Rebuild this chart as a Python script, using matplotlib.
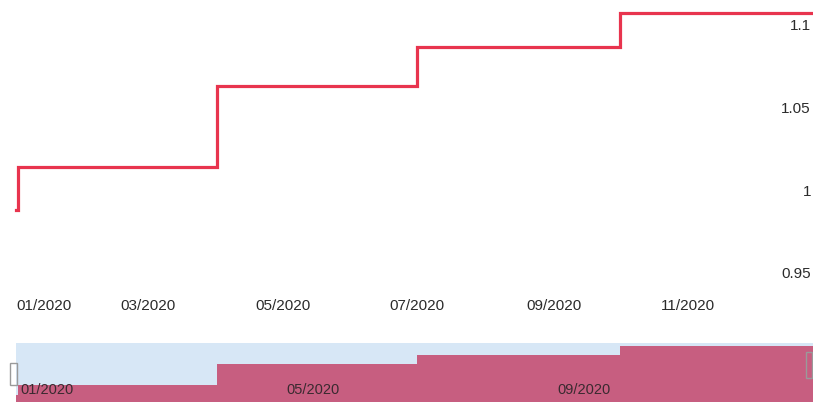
import matplotlib
matplotlib.use("Agg")
import matplotlib.pyplot as plt
import matplotlib.dates as mdates
import matplotlib.patches as patches
import pandas as pd

plt.rcParams['font.family'] = ['Liberation Sans', 'DejaVu Sans']

# step series (quarterly levels)
dates = ['2020-01-01', '2020-01-02', '2020-04-01', '2020-07-01', '2020-10-01', '2020-12-31']
values = [0.988, 1.014, 1.0633, 1.0864, 1.107, 1.107]

x_ticks = ['2020-01-01', '2020-03-01', '2020-05-01', '2020-07-01', '2020-09-01', '2020-11-01']
x_labels = ['01/2020', '03/2020', '05/2020', '07/2020', '09/2020', '11/2020']
y_ticks = [0.95, 1.0, 1.05, 1.1]
y_labels = ['0.95', '1', '1.05', '1.1']
nav_ticks = ['2020-01-01', '2020-05-01', '2020-09-01']
nav_labels = ['01/2020', '05/2020', '09/2020']

line_color = '#e8344e'
fill_color = '#c75e80'
window_color = '#d7e7f6'
text_color = '#2b2b2b'

x = pd.to_datetime(dates)
x0 = mdates.date2num(x[0])
xlim = (x0 - 7.3, x0 + 361.8)

fig = plt.figure(figsize=(8.13, 4.04), dpi=100)

# main chart
ax = fig.add_axes([0, 131 / 404, 1, 273 / 404])
ax.plot(x, values, drawstyle='steps-post', color=line_color, lw=2.3, solid_joinstyle='miter')
ax.set_xlim(xlim)
ax.set_ylim(0.95, 1.115)
for s in ax.spines.values():
    s.set_visible(False)
ax.set_xticks(pd.to_datetime(x_ticks))
ax.set_xticklabels(x_labels)
ax.tick_params(axis='x', length=0, pad=19, labelsize=11, labelcolor=text_color)
ax.get_xticklabels()[0].set_horizontalalignment('left')
ax.yaxis.tick_right()
ax.set_yticks(y_ticks)
ax.set_yticklabels(y_labels)
ax.tick_params(axis='y', length=0, pad=-1.5, labelsize=11, labelcolor=text_color)
for lbl in ax.get_yticklabels():
    lbl.set_horizontalalignment('right')
ax.patch.set_alpha(0)

# navigator at the bottom
nav = fig.add_axes([0, 2 / 404, 1, 59 / 404])
nav.set_xlim(xlim)
nav.set_ylim(0.972, 1.115)
nav.axvspan(x[0], x[-1], color=window_color, lw=0)
nav.fill_between(x, values, 0.972, step='post', color=fill_color, lw=0)
nav.axis('off')
for d, t in zip(pd.to_datetime(nav_ticks), nav_labels):
    nav.annotate(t, (mdates.date2num(d), 0.2), xycoords=('data', 'axes fraction'),
                 xytext=(3, 0), textcoords='offset points', ha='left', va='center',
                 fontsize=10.5, color='#3a2a30')

# drag handles
fig.patches.append(patches.Rectangle((10 / 813, (404 - 385) / 404), 7 / 813, 22 / 404,
                                     transform=fig.transFigure, fill=False,
                                     edgecolor='#9a9a9a', lw=1))
fig.patches.append(patches.Rectangle((806 / 813, (404 - 378) / 404), 6 / 813, 26 / 404,
                                     transform=fig.transFigure, fill=False,
                                     edgecolor='#9a9a9a', lw=1))

fig.savefig('out.png', dpi=100)
